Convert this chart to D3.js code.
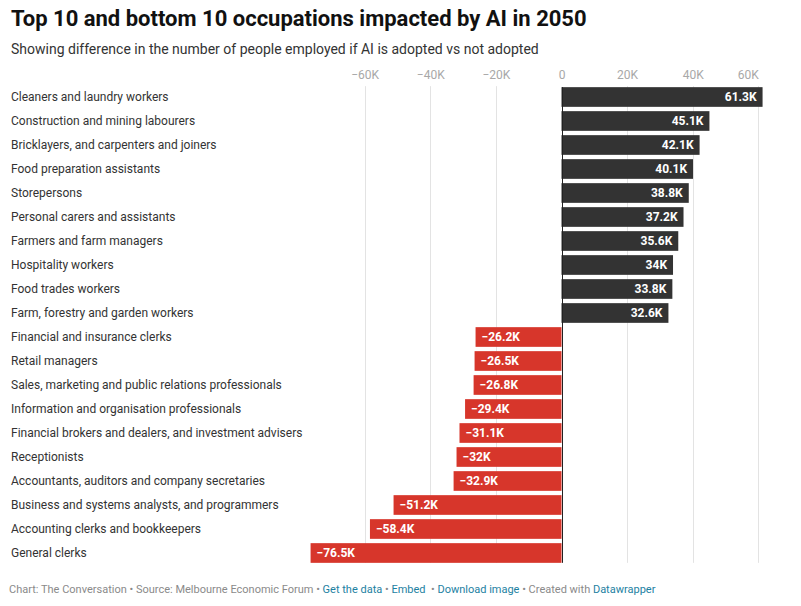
<!DOCTYPE html>
<html>
<head>
<meta charset="utf-8">
<script src="https://cdn.jsdelivr.net/npm/d3@7"></script>
<style>
  body { margin: 0; background: #fff; font-family: Roboto, "Noto Sans", sans-serif; }
  svg text { font-family: Roboto, "Noto Sans", sans-serif; }
</style>
</head>
<body>
<svg id="chart" width="801" height="606"></svg>
<script>
// occupations, top to bottom
const occupations = [
  "Cleaners and laundry workers",
  "Construction and mining labourers",
  "Bricklayers, and carpenters and joiners",
  "Food preparation assistants",
  "Storepersons",
  "Personal carers and assistants",
  "Farmers and farm managers",
  "Hospitality workers",
  "Food trades workers",
  "Farm, forestry and garden workers",
  "Financial and insurance clerks",
  "Retail managers",
  "Sales, marketing and public relations professionals",
  "Information and organisation professionals",
  "Financial brokers and dealers, and investment advisers",
  "Receptionists",
  "Accountants, auditors and company secretaries",
  "Business and systems analysts, and programmers",
  "Accounting clerks and bookkeepers",
  "General clerks"
];

// difference in employment, thousands of people
const difference = [
  61.3, 45.1, 42.1, 40.1, 38.8, 37.2, 35.6, 34, 33.8, 32.6,
  -26.2, -26.5, -26.8, -29.4, -31.1, -32, -32.9, -51.2, -58.4, -76.5
];

const tickValues = [-60, -40, -20, 0, 20, 40, 60];

const data = occupations.map((name, i) => ({ name, value: difference[i] }));

const svg = d3.select("#chart");

const x = d3.scaleLinear()
  .domain([-60, 60])
  .range([364.7, 758.3]);

const y = d3.scaleBand()
  .domain(occupations)
  .range([85, 565])
  .paddingInner(0.18)
  .paddingOuter(0.09);

const fmt = v => (v < 0 ? "\u2212" : "") + Math.abs(v) + "K";

const plotTop = y(occupations[0]);
const plotBottom = y(occupations[occupations.length - 1]) + y.bandwidth();

// header
svg.append("text")
  .attr("x", 11).attr("y", 26)
  .attr("font-size", 22).attr("font-weight", 700).attr("fill", "#111")
  .text("Top 10 and bottom 10 occupations impacted by AI in 2050");

svg.append("text")
  .attr("x", 11).attr("y", 54)
  .attr("font-size", 14).attr("fill", "#333")
  .text("Showing difference in the number of people employed if AI is adopted vs not adopted");

// grid
svg.append("g")
  .selectAll("line")
  .data(tickValues.filter(d => d !== 0))
  .join("line")
  .attr("x1", d => Math.round(x(d)) + 0.5)
  .attr("x2", d => Math.round(x(d)) + 0.5)
  .attr("y1", plotTop - 1).attr("y2", plotBottom)
  .attr("stroke", "#e3e3e3");

// tick labels on top
const axis = d3.axisTop(x)
  .tickValues(tickValues)
  .tickSize(0)
  .tickPadding(0)
  .tickFormat(d => d === 0 ? "0" : fmt(d));

const axisG = svg.append("g")
  .attr("transform", "translate(0,79)")
  .call(axis);
axisG.select(".domain").remove();
axisG.selectAll("text")
  .attr("font-size", 12)
  .attr("fill", "#a8a8a8")
  .attr("dy", 0)
  .attr("text-anchor", d => d === 60 ? "end" : "middle");

// bars
svg.append("g")
  .selectAll("rect")
  .data(data)
  .join("rect")
  .attr("x", d => x(Math.min(0, d.value)))
  .attr("width", d => Math.abs(x(d.value) - x(0)))
  .attr("y", d => y(d.name))
  .attr("height", y.bandwidth())
  .attr("fill", d => d.value >= 0 ? "#333333" : "#d7362b");

// zero line
svg.append("line")
  .attr("x1", Math.round(x(0)) + 0.5).attr("x2", Math.round(x(0)) + 0.5)
  .attr("y1", plotTop).attr("y2", plotBottom)
  .attr("stroke", "#222");

// value labels
svg.append("g")
  .selectAll("text")
  .data(data)
  .join("text")
  .attr("x", d => d.value >= 0 ? x(d.value) - 6 : x(d.value) + 6)
  .attr("y", d => y(d.name) + y.bandwidth() / 2 + 4.2)
  .attr("text-anchor", d => d.value >= 0 ? "end" : "start")
  .attr("font-size", 12).attr("font-weight", 700).attr("fill", "#fff")
  .text(d => fmt(d.value));

// row labels
svg.append("g")
  .selectAll("text")
  .data(data)
  .join("text")
  .attr("x", 11)
  .attr("y", d => y(d.name) + y.bandwidth() / 2 + 4.2)
  .attr("font-size", 12).attr("fill", "#333")
  .text(d => d.name);

// footer
const footer = svg.append("text")
  .attr("x", 9).attr("y", 593)
  .attr("font-size", 11).attr("fill", "#8a8a8a");
const parts = [
  ["Chart: The Conversation \u2022 Source: Melbourne Economic Forum \u2022 ", false],
  ["Get the data", true],
  [" \u2022 ", false],
  ["Embed", true],
  ["  \u2022 ", false],
  ["Download image", true],
  [" \u2022 Created with ", false],
  ["Datawrapper", true]
];
parts.forEach(([t, link]) => {
  footer.append("tspan")
    .attr("fill", link ? "#1d81a2" : "#8a8a8a")
    .attr("xml:space", "preserve")
    .text(t);
});
</script>
</body>
</html>
